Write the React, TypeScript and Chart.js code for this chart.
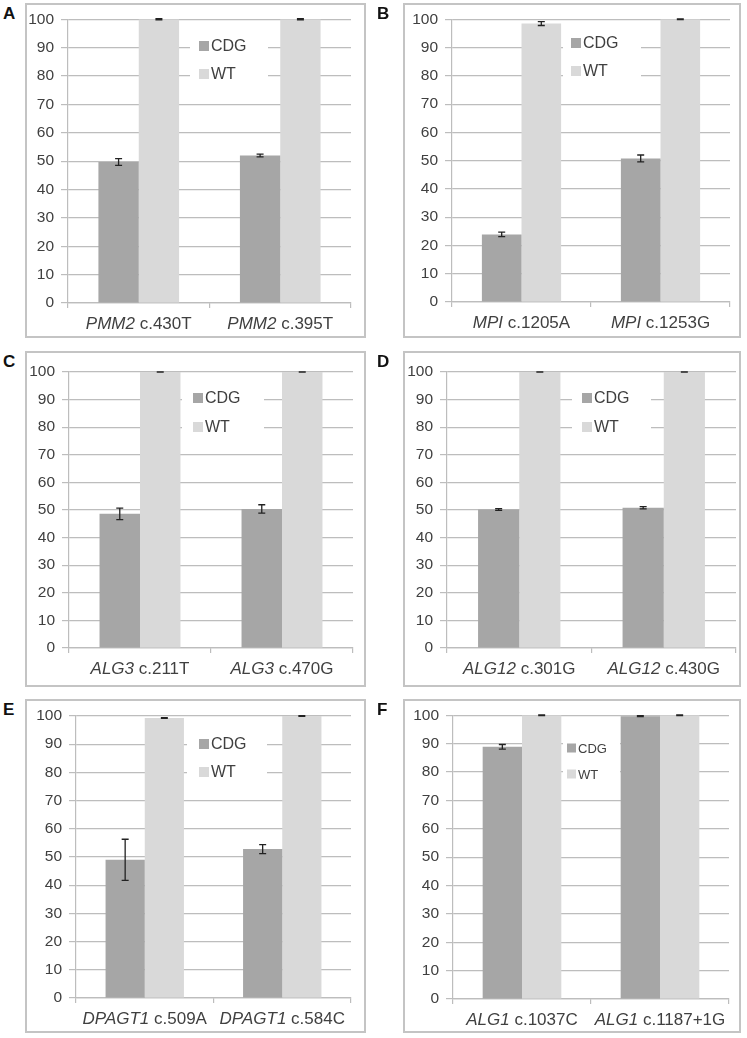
import React, { useEffect, useRef } from "react";
import { Chart, registerables } from "chart.js";

Chart.register(...registerables);

// ---------- data ----------
const seriesNames = ["CDG", "WT"];
const panelLetters = ["A", "B", "C", "D", "E", "F"];
const yTickStep = 10;
const yMax = 100;

const genesA = ["PMM2", "PMM2"];
const mutsA = ["c.430T", "c.395T"];
const cdgA = [49.7, 52.0];
const cdgErrA = [1.2, 0.5];
const wtA = [100, 100];
const wtErrA = [0.2, 0.2];

const genesB = ["MPI", "MPI"];
const mutsB = ["c.1205A", "c.1253G"];
const cdgB = [23.9, 50.8];
const cdgErrB = [0.8, 1.2];
const wtB = [98.5, 100];
const wtErrB = [0.7, 0.1];

const genesC = ["ALG3", "ALG3"];
const mutsC = ["c.211T", "c.470G"];
const cdgC = [48.6, 50.4];
const cdgErrC = [2.1, 1.5];
const wtC = [100, 100];
const wtErrC = [0, 0];

const genesD = ["ALG12", "ALG12"];
const mutsD = ["c.301G", "c.430G"];
const cdgD = [50.2, 50.8];
const cdgErrD = [0.3, 0.4];
const wtD = [100, 100];
const wtErrD = [0, 0];

const genesE = ["DPAGT1", "DPAGT1"];
const mutsE = ["c.509A", "c.584C"];
const cdgE = [49.0, 52.8];
const cdgErrE = [7.3, 1.6];
const wtE = [99.3, 100];
const wtErrE = [0.1, 0.1];

const genesF = ["ALG1", "ALG1"];
const mutsF = ["c.1037C", "c.1187+1G"];
const cdgF = [88.9, 99.7];
const cdgErrF = [0.8, 0.2];
const wtF = [100, 100];
const wtErrF = [0.1, 0.1];

// ---------- layout / style ----------
const FONT = '"Liberation Sans", Arial, Helvetica, sans-serif';
const TEXT = "#404040";
const GRID = "#bdbdbd";
const CDG_COLOR = "#a6a6a6";
const WT_COLOR = "#d9d9d9";

type Layout = {
  box: number[];
  plot: number[];
  legend: { x: number; y: number; gap: number; font: number; bg: number[] };
};

const layouts: Layout[] = [
  { box: [25, 3, 366, 338], plot: [68, 18, 351, 303], legend: { x: 199, y: 46, gap: 28, font: 16, bg: [190, 268] } },
  { box: [403, 3, 741, 338], plot: [452, 18, 730, 302], legend: { x: 571, y: 43, gap: 28, font: 16, bg: [563, 641] } },
  { box: [25, 351, 366, 687], plot: [69, 372, 353, 648], legend: { x: 193, y: 398, gap: 29, font: 16, bg: [182, 264] } },
  { box: [403, 351, 741, 687], plot: [447, 372, 736, 648], legend: { x: 582, y: 398, gap: 29, font: 16, bg: [572, 651] } },
  { box: [25, 699, 366, 1033], plot: [76, 716, 351, 998], legend: { x: 199, y: 744, gap: 28, font: 16, bg: [187, 267] } },
  { box: [403, 699, 741, 1033], plot: [453, 715, 729, 999], legend: { x: 567, y: 748, gap: 26, font: 13, bg: [563, 620] } },
];

const panels = [
  { genes: genesA, muts: mutsA, cdg: cdgA, cdgErr: cdgErrA, wt: wtA, wtErr: wtErrA },
  { genes: genesB, muts: mutsB, cdg: cdgB, cdgErr: cdgErrB, wt: wtB, wtErr: wtErrB },
  { genes: genesC, muts: mutsC, cdg: cdgC, cdgErr: cdgErrC, wt: wtC, wtErr: wtErrC },
  { genes: genesD, muts: mutsD, cdg: cdgD, cdgErr: cdgErrD, wt: wtD, wtErr: wtErrD },
  { genes: genesE, muts: mutsE, cdg: cdgE, cdgErr: cdgErrE, wt: wtE, wtErr: wtErrE },
  { genes: genesF, muts: mutsF, cdg: cdgF, cdgErr: cdgErrF, wt: wtF, wtErr: wtErrF },
];

function Panel({ idx }: { idx: number }) {
  const ref = useRef<HTMLCanvasElement>(null);
  const lay = layouts[idx];
  const p = panels[idx];
  const [bx0, by0, bx1, by1] = lay.box;
  const [px0, py0, px1, py1] = lay.plot;
  const W = bx1 - bx0;
  const H = by1 - by0;

  useEffect(() => {
    const errs = [p.cdgErr, p.wtErr];
    const errorBars = {
      id: "errorBars" + idx,
      afterDatasetsDraw(chart: any) {
        const ctx = chart.ctx;
        const ys = chart.scales.y;
        ctx.save();
        ctx.strokeStyle = "#222";
        ctx.lineWidth = 1.3;
        chart.data.datasets.forEach((ds: any, d: number) => {
          const meta = chart.getDatasetMeta(d);
          meta.data.forEach((bar: any, i: number) => {
            const v = ds.data[i];
            const e = errs[d][i];
            const x = bar.x;
            const yHi = ys.getPixelForValue(v + e);
            const yLo = ys.getPixelForValue(v - e);
            const cap = 3.5;
            ctx.beginPath();
            ctx.moveTo(x, yHi);
            ctx.lineTo(x, yLo);
            ctx.moveTo(x - cap, yHi);
            ctx.lineTo(x + cap, yHi);
            ctx.moveTo(x - cap, yLo);
            ctx.lineTo(x + cap, yLo);
            ctx.stroke();
          });
        });
        ctx.restore();
      },
    };
    const legendPlugin = {
      id: "legendBox" + idx,
      afterDraw(chart: any) {
        const ctx = chart.ctx;
        const L = lay.legend;
        const ox = bx0;
        const oy = by0;
        ctx.save();
        ctx.fillStyle = "#ffffff";
        ctx.fillRect(L.bg[0] - ox, L.y - oy - L.gap / 2, L.bg[1] - L.bg[0], L.gap * 2);
        const sq = L.font >= 15 ? 10 : 9;
        chart.data.datasets.forEach((ds: any, d: number) => {
          const cy = L.y - oy + d * L.gap;
          ctx.fillStyle = ds.backgroundColor;
          ctx.fillRect(L.x - ox, cy - sq / 2, sq, sq);
          ctx.fillStyle = TEXT;
          ctx.font = `${L.font}px ${FONT}`;
          ctx.textBaseline = "middle";
          ctx.textAlign = "left";
          ctx.fillText(ds.label, L.x - ox + sq + 2, cy + 1);
        });
        ctx.restore();
      },
    };
    const xLabels = {
      id: "xLabels" + idx,
      afterDraw(chart: any) {
        const ctx = chart.ctx;
        const xs = chart.scales.x;
        ctx.save();
        ctx.fillStyle = TEXT;
        ctx.textBaseline = "middle";
        ctx.textAlign = "left";
        const fs = 17;
        p.genes.forEach((g: string, i: number) => {
          const x = xs.getPixelForValue(i);
          const y = xs.top + 21;
          ctx.font = `italic ${fs}px ${FONT}`;
          const w1 = ctx.measureText(g).width;
          ctx.font = `${fs}px ${FONT}`;
          const rest = " " + p.muts[i];
          const w2 = ctx.measureText(rest).width;
          const start = x - (w1 + w2) / 2;
          ctx.font = `italic ${fs}px ${FONT}`;
          ctx.fillText(g, start, y);
          ctx.font = `${fs}px ${FONT}`;
          ctx.fillText(rest, start + w1, y);
        });
        ctx.restore();
      },
    };

    const chart = new Chart(ref.current as HTMLCanvasElement, {
      type: "bar",
      data: {
        labels: p.genes.map((g, i) => g + " " + p.muts[i]),
        datasets: [
          { label: seriesNames[0], data: p.cdg, backgroundColor: CDG_COLOR },
          { label: seriesNames[1], data: p.wt, backgroundColor: WT_COLOR },
        ],
      },
      options: {
        responsive: false,
        animation: false,
        layout: { padding: { left: 0, top: py0 - by0, right: bx1 - px1, bottom: 0 } },
        plugins: { legend: { display: false }, tooltip: { enabled: false } },
        datasets: { bar: { categoryPercentage: 0.57, barPercentage: 1.0 } },
        scales: {
          x: {
            grid: { drawOnChartArea: false, color: GRID, tickLength: 5, offset: true, lineWidth: 1.2 },
            border: { color: GRID, width: 1.2 },
            ticks: { callback: () => "", font: { size: 15, family: FONT } },
            afterFit: (s: any) => {
              s.height = by1 - py1;
            },
          },
          y: {
            min: 0,
            max: yMax,
            ticks: { stepSize: yTickStep, color: TEXT, font: { size: 15.5, family: FONT }, padding: 7 },
            grid: { color: GRID, tickLength: 7, lineWidth: 1.2 },
            border: { color: GRID, width: 1.2 },
            afterFit: (s: any) => {
              s.width = px0 - bx0;
            },
          },
        },
      } as any,
      plugins: [errorBars, legendPlugin, xLabels],
    });
    return () => chart.destroy();
  }, []);

  const letterLeft = bx0 < 200 ? 3 : 377;
  return (
    <>
      <div
        style={{
          position: "absolute",
          left: letterLeft,
          top: by0 + 1,
          font: `bold 17px ${FONT}`,
          lineHeight: "20px",
          color: "#111",
        }}
      >
        {panelLetters[idx]}
      </div>
      <canvas
        ref={ref}
        width={W}
        height={H}
        style={{ position: "absolute", left: bx0, top: by0, width: W, height: H, display: "block" }}
      />
      <div
        style={{
          position: "absolute",
          left: bx0,
          top: by0,
          width: W,
          height: H,
          boxSizing: "border-box",
          border: "2px solid #c4c4c4",
          pointerEvents: "none",
        }}
      />
    </>
  );
}

export default function App() {
  return (
    <div style={{ position: "absolute", left: 0, top: 0, width: 747, height: 1038, background: "#fff" }}>
      {panels.map((_, i) => (
        <Panel key={i} idx={i} />
      ))}
    </div>
  );
}
